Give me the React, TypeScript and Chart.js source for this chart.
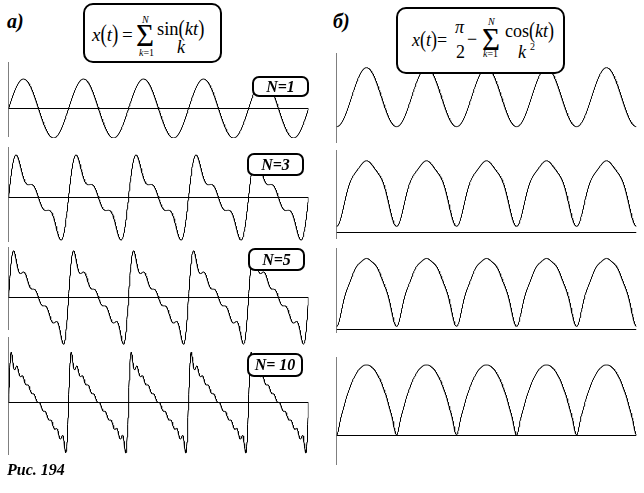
import React, { useEffect, useRef } from 'react';
import { Chart, registerables } from 'chart.js';

Chart.register(...registerables);

// ---- data ----
const ORDERS = [1, 3, 5, 10];
const ORDER_LABELS = ['N=1', 'N=3', 'N=5', 'N= 10'];
const T_START = 0;
const T_END = 10 * Math.PI;
const SAMPLE_COUNT = 1200;

// series (a): partial sums of sin(kt)/k ; series (b): pi/2 - partial sums of cos(kt)/k^2
function sinePartial(n: number, t: number) {
  let s = 0;
  for (let k = 1; k <= n; k++) s += Math.sin(k * t) / k;
  return s;
}
function cosinePartial(n: number, t: number) {
  let s = Math.PI / 2;
  for (let k = 1; k <= n; k++) s -= Math.cos(k * t) / (k * k);
  return s;
}
function series(fn: (n: number, t: number) => number, n: number) {
  const pts: { x: number; y: number }[] = [];
  for (let i = 0; i <= SAMPLE_COUNT; i++) {
    const t = T_START + ((T_END - T_START) * i) / SAMPLE_COUNT;
    pts.push({ x: t, y: fn(n, t) });
  }
  return pts;
}

// ---- layout ----
const SCALE = 29.5; // px per unit
const PANEL_W = 300;
const LEFT_X = 8;
const RIGHT_X = 336;
const LEFT_ZERO_Y = [108, 197, 297, 402];
const RIGHT_ZERO_Y = [143, 232, 329, 435];
const LEFT_VLINE = [[62, 137], [147, 242], [247, 330], [337, 455]];
const RIGHT_VLINE = [[53, 143], [150, 239], [248, 333], [357, 465]];
const LABEL_BOXES = [
  [252, 76, 57, 21],
  [247, 153, 57, 23],
  [248, 248, 57, 23],
  [247, 353, 56, 24],
];

const SERIF = '"Liberation Serif", "DejaVu Serif", serif';

function Panel({ left, zeroY, vTop, vBot, points }: any) {
  const ref = useRef<HTMLCanvasElement | null>(null);
  const pad = 3;
  const z = zeroY + 0.5;
  const ys = points.map((p: any) => p.y);
  const vTopV = (z - vTop) / SCALE;
  const vBotV = (z - vBot) / SCALE;
  const maxV = Math.max(...ys, vTopV);
  const minV = Math.min(...ys, vBotV);
  const topPx = Math.floor(z - maxV * SCALE) - pad;
  const botPx = Math.ceil(z - minV * SCALE) + pad;
  const h = botPx - topPx;
  const yMax = (z - (topPx + pad)) / SCALE;
  const yMin = (z - (botPx - pad)) / SCALE;
  const w = PANEL_W + 2 * pad;

  useEffect(() => {
    const chart = new Chart(ref.current as HTMLCanvasElement, {
      type: 'scatter',
      data: {
        datasets: [
          {
            data: points,
            showLine: true,
            borderColor: '#000',
            borderWidth: 1,
            pointRadius: 0,
            tension: 0,
          },
          {
            data: [
              { x: T_START, y: 0 },
              { x: T_END, y: 0 },
            ],
            showLine: true,
            borderColor: '#000',
            borderWidth: 1,
            pointRadius: 0,
          },
          {
            data: [
              { x: T_START, y: vBotV },
              { x: T_START, y: vTopV },
            ],
            showLine: true,
            borderColor: '#000',
            borderWidth: 1,
            pointRadius: 0,
          },
        ],
      } as any,
      options: {
        responsive: false,
        maintainAspectRatio: false,
        animation: false,
        events: [],
        layout: { padding: { left: pad + 0.5, right: pad - 0.5, top: pad, bottom: pad } },
        plugins: { legend: { display: false }, tooltip: { enabled: false } },
        scales: {
          x: { type: 'linear', min: T_START, max: T_END, display: false },
          y: { type: 'linear', min: yMin, max: yMax, display: false },
        },
      } as any,
    });
    return () => chart.destroy();
  }, []);

  return (
    <canvas
      ref={ref}
      width={w}
      height={h}
      style={{ position: 'absolute', left: left - pad, top: topPx, width: w, height: h }}
    />
  );
}

function Txt({ x, base, size, italic, bold, children }: any) {
  return (
    <span
      style={{
        position: 'absolute',
        left: x,
        top: base - 0.8375 * size,
        fontSize: size,
        lineHeight: `${size}px`,
        fontStyle: italic ? 'italic' : 'normal',
        fontWeight: bold ? 700 : 400,
        whiteSpace: 'nowrap',
        fontFamily: SERIF,
        color: '#000',
      }}
    >
      {children}
    </span>
  );
}

const I = ({ children }: any) => <span style={{ fontStyle: 'italic' }}>{children}</span>;
const P = ({ children }: any) => (
  <span style={{ display: 'inline-block', transform: 'scaleY(1.3)', transformOrigin: '50% 70%' }}>{children}</span>
);

function Box({ x, y, w, h, r }: any) {
  return (
    <div
      style={{
        position: 'absolute',
        left: x,
        top: y,
        width: w,
        height: h,
        boxSizing: 'border-box',
        border: '2px solid #000',
        borderRadius: r,
        background: '#fff',
      }}
    />
  );
}

export default function App() {
  return (
    <div
      style={{
        position: 'absolute',
        left: 0,
        top: 0,
        width: 644,
        height: 493,
        background: '#fff',
        overflow: 'hidden',
        fontFamily: SERIF,
      }}
    >
      {ORDERS.map((n, i) => (
        <Panel
          key={'a' + n}
          left={LEFT_X}
          zeroY={LEFT_ZERO_Y[i]}
          vTop={LEFT_VLINE[i][0]}
          vBot={LEFT_VLINE[i][1]}
          points={series(sinePartial, n)}
        />
      ))}
      {ORDERS.map((n, i) => (
        <Panel
          key={'b' + n}
          left={RIGHT_X}
          zeroY={RIGHT_ZERO_Y[i]}
          vTop={RIGHT_VLINE[i][0]}
          vBot={RIGHT_VLINE[i][1]}
          points={series(cosinePartial, n)}
        />
      ))}

      {/* N labels */}
      {ORDER_LABELS.map((lab, i) => {
        const [x, y, w, h] = LABEL_BOXES[i];
        return (
          <div
            key={lab}
            style={{
              position: 'absolute',
              left: x,
              top: y,
              width: w,
              height: h,
              boxSizing: 'border-box',
              border: '2px solid #000',
              borderRadius: 7,
              background: '#fff',
              display: 'flex',
              alignItems: 'center',
              justifyContent: 'center',
              fontFamily: SERIF,
              fontStyle: 'italic',
              fontWeight: 700,
              fontSize: 16,
              whiteSpace: 'pre',
            }}
          >
            {lab}
          </div>
        );
      })}

      {/* formula boxes */}
      <Box x={83} y={3} w={139} h={60} r={10} />
      <Box x={396} y={7} w={169} h={67} r={10} />

      {/* left formula */}
      <Txt x={92} base={41} size={19}><I>x</I><P>(</P><I>t</I><P>)</P></Txt>
      <Txt x={122} base={41} size={19}>=</Txt>
      <Txt x={136} base={46} size={31}>Σ</Txt>
      <Txt x={142} base={23} size={10} italic>N</Txt>
      <Txt x={139} base={56} size={10}><I>k</I>=1</Txt>
      <Txt x={157} base={35} size={18.5}>sin<P>(</P><I>kt</I><P>)</P></Txt>
      <Txt x={177} base={53} size={18} italic>k</Txt>

      {/* right formula */}
      <Txt x={412} base={46} size={18}><I>x</I><P>(</P><I>t</I><P>)</P></Txt>
      <Txt x={437} base={46} size={18}>=</Txt>
      <Txt x={455} base={33} size={18} italic>π</Txt>
      <Txt x={456} base={58} size={18}>2</Txt>
      <Txt x={467} base={45} size={18}>−</Txt>
      <Txt x={482} base={50} size={31}>Σ</Txt>
      <Txt x={488} base={25} size={10} italic>N</Txt>
      <Txt x={483} base={57} size={10}><I>k</I>=1</Txt>
      <Txt x={505} base={37} size={18}>cos<P>(</P><I>kt</I><P>)</P></Txt>
      <Txt x={518} base={58} size={18} italic>k</Txt>
      <Txt x={530} base={50} size={10}>2</Txt>

      {/* panel letters and caption */}
      <Txt x={7} base={28} size={20} italic bold>а)</Txt>
      <Txt x={333} base={28} size={20} italic bold>б)</Txt>
      <Txt x={7} base={475} size={16} italic bold>Рис. 194</Txt>
    </div>
  );
}
